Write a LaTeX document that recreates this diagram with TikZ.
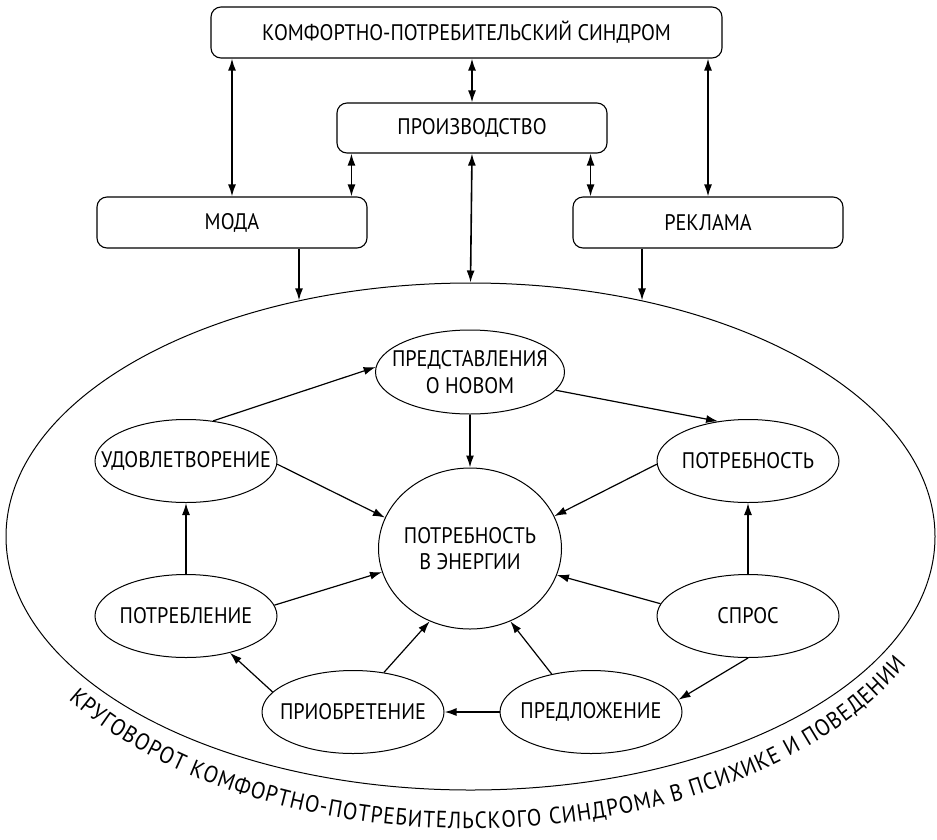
\documentclass[tikz,border=0pt]{standalone}
\usepackage{fontspec}
\setmainfont{PT Sans}[FakeStretch=0.9]
\usetikzlibrary{arrows.meta,shapes.geometric,decorations.text,calc}
\newcommand\arcfont{\fontsize{23.5}{26}\selectfont}
\begin{document}
\begin{tikzpicture}[x=1pt,y=-1pt,
  >={Latex[length=12pt,width=8pt]},
  lbl/.style={font=\fontsize{22.5}{26.5}\selectfont,inner sep=0pt,align=center},
  box/.style={draw,line width=1.1pt,rounded corners=10pt,inner sep=0pt,lbl},
  ell/.style={draw,ellipse,line width=1pt,inner sep=0pt,minimum width=182pt,minimum height=83pt},
  arr/.style={line width=1.2pt,->},
  varr/.style={line width=1.6pt,->},
  darr/.style={line width=1.6pt,<->},
]
\useasboundingbox (0,0) rectangle (937,839);
% top boxes
\node[box,minimum width=511pt,minimum height=51pt] (top) at (466.5,32.5) {КОМФОРТНО-ПОТРЕБИТЕЛЬСКИЙ СИНДРОМ};
\node[box,minimum width=270pt,minimum height=50pt] (prod) at (472,128) {ПРОИЗВОДСТВО};
\node[box,minimum width=270pt,minimum height=51pt] (moda) at (232,222.5) {МОДА};
\node[box,minimum width=270pt,minimum height=51pt] (rekl) at (708,222.5) {РЕКЛАМА};
% big ellipse
\node[draw,ellipse,line width=1pt,inner sep=0pt,minimum width=929pt,minimum height=507pt] (cyc) at (470.5,536.5) {};
% inner ellipses
\node[ell,minimum width=189pt,minimum height=84pt] (pred) at (470,372) {};
\node[ell,minimum width=183pt,minimum height=161pt] (en) at (470,548.5) {};
\node[ell] (udo) at (186,461) {};
\node[ell] (potr) at (748,461) {};
\node[ell] (potreb) at (186,616) {};
\node[ell] (spros) at (748,616) {};
\node[ell] (priob) at (353,712) {};
\node[ell] (predl) at (591,712) {};
% labels
\node[lbl] (pred-t) at (pred) {ПРЕДСТАВЛЕНИЯ\\О НОВОМ};
\node[lbl] (en-t) at (en) {ПОТРЕБНОСТЬ\\В ЭНЕРГИИ};
\node[lbl] (udo-t) at (udo) {УДОВЛЕТВОРЕНИЕ};
\node[lbl] (potr-t) at (potr) {ПОТРЕБНОСТЬ};
\node[lbl] (potreb-t) at (potreb) {ПОТРЕБЛЕНИЕ};
\node[lbl] (spros-t) at (spros) {СПРОС};
\node[lbl] (priob-t) at (priob) {ПРИОБРЕТЕНИЕ};
\node[lbl] (predl-t) at (predl) {ПРЕДЛОЖЕНИЕ};
% top connectors
\draw[darr] (top.south -| prod.north) -- (prod.north);
\draw[darr] (moda.north) -- (moda.north |- top.south);
\draw[darr] (rekl.north) -- (rekl.north |- top.south);
\coordinate (pl) at ($(prod.south west)+(15,0)$);
\coordinate (pr) at ($(prod.south east)+(-17,0)$);
\draw[darr] (pl) -- (pl |- moda.north);
\draw[darr] (pr) -- (pr |- rekl.north);
\draw[darr] (prod.south) -- (cyc.north);
\draw[varr] (moda.south -| cyc.126) -- (cyc.126);
\draw[varr] (rekl.south -| cyc.54) -- (cyc.54);
% inner connectors
\draw[arr] (udo.56) -- (pred.177);
\draw[arr] (pred.-12) -- (potr.127);
\draw[varr] (pred.south) -- (en.north);
\draw[arr] (udo.-2) -- (en.160);
\draw[arr] (potr.182) -- (en.21);
\draw[arr] (potreb.7) -- (en.195);
\draw[arr] (spros.172) -- (en.-17);
\draw[arr] (priob.52) -- (en.241);
\draw[arr] (predl.136) -- (en.-61);
\draw[varr] (potreb.north) -- (udo.south);
\draw[varr] (spros.north) -- (potr.south);
\draw[varr] (predl.west) -- (priob.east);
\draw[arr] (spros.south) -- (predl.8);
\draw[arr] (priob.166) -- (potreb.-40);
% curved caption
\coordinate (arcc) at (470.5,536.5);
\path[decorate,decoration={text along path,text align=fit to path,
  text={|\arcfont|КРУГОВОРОТ КОМФОРТНО-ПОТРЕБИТЕЛЬСКОГО СИНДРОМА В ПСИХИКЕ И ПОВЕДЕНИИ}}]
  (arcc) ++(146:485 and 292) arc[start angle=146,end angle=26,x radius=485,y radius=292];
\end{tikzpicture}
\end{document}
